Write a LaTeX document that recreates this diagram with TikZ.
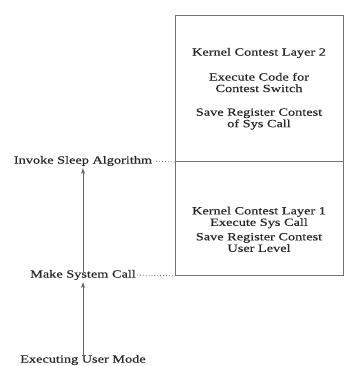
\documentclass[tikz,border=0pt]{standalone}
\usepackage{fontspec}
\setmainfont{Liberation Serif}[FakeStretch=1.3,FakeBold=0.3]
\usetikzlibrary{arrows.meta}
\begin{document}
\begin{tikzpicture}[x=1pt,y=1pt,
  lbl/.style={inner sep=0pt, align=center, text=black!85, font=\fontsize{11}{11.5}\selectfont},
  boxframe/.style={draw=black!55, line width=0.9pt, inner sep=0pt},
  upArrow/.style={draw=black!60, line width=0.8pt, -{Stealth[length=6pt,width=4pt]}},
  dots/.style={draw=black!60, line width=0.9pt, dotted}]
\useasboundingbox (0,0) rectangle (351,-366);
\fill[white] (0,0) rectangle (351,-366);
% boxes
\node[boxframe, minimum width=168pt, minimum height=146pt, anchor=north west] (box2) at (175,-15) {};
\node[boxframe, minimum width=168pt, minimum height=114pt, anchor=north west] (box1) at (175,-161) {};
% box texts
\node[lbl] (k2) at (259,-53) {Kernel Contest Layer 2};
\node[lbl] (ec) at (259,-82.5) {Execute Code for\\Contest Switch};
\node[lbl] (sr2) at (259,-119) {Save Register Contest\\of Sys Call};
\node[lbl] (k1) at (259,-217.5) {Kernel Contest Layer 1\\Execute Sys Call};
\node[lbl] (sr1) at (259,-242.5) {Save Register Contest\\User Level};
% left labels
\node[lbl] (inv) at (83,-161) {Invoke Sleep Algorithm};
\node[lbl] (make) at (83,-275) {Make System Call};
\node[lbl] (exec) at (83,-360) {Executing User Mode};
% arrows
\draw[upArrow] ([yshift=-2pt]exec.north) -- ([yshift=-2pt]make.south);
\draw[upArrow] ([yshift=-2pt]make.north) -- ([yshift=-2pt]inv.south);
% dotted leaders
\draw[dots] ([xshift=1pt]inv.east) -- (box2.south west);
\draw[dots] ([xshift=1pt]make.east) -- (box1.south west);
\end{tikzpicture}
\end{document}
